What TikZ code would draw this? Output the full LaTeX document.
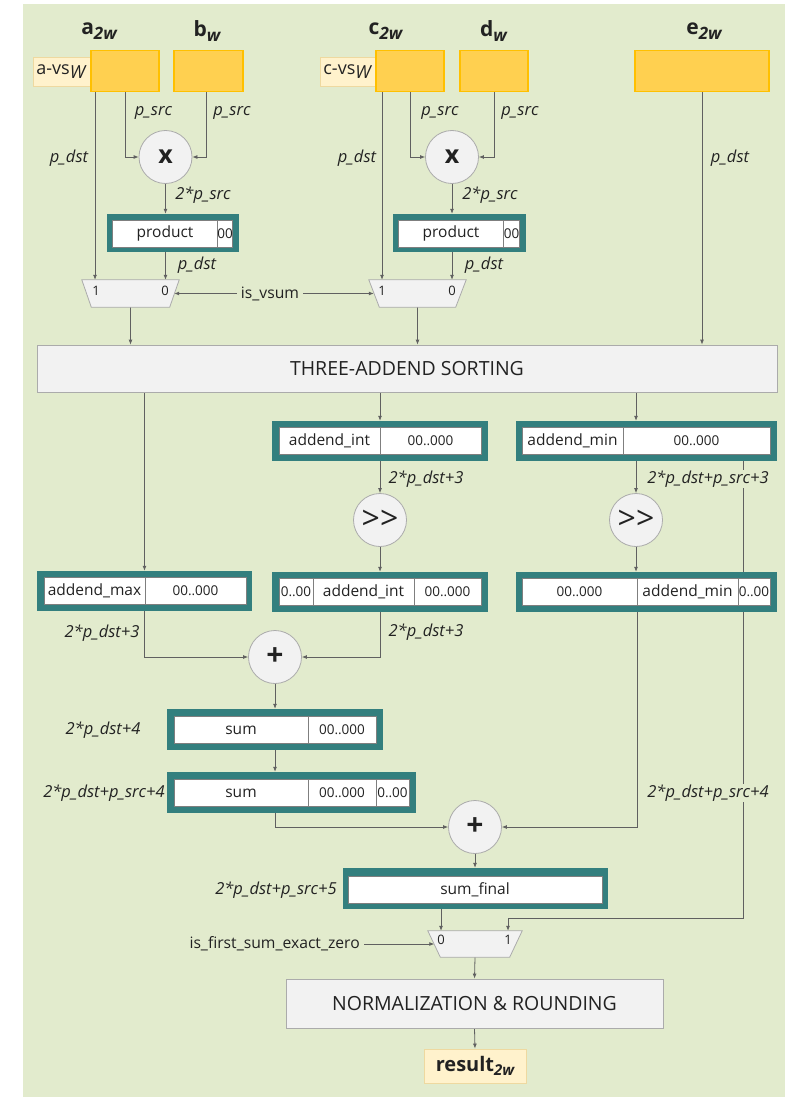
\documentclass[tikz,border=0pt]{standalone}
\usepackage{fontspec}
\setmainfont{Open Sans}
\usetikzlibrary{arrows.meta}
\definecolor{bgreen}{HTML}{E2EBCD}
\definecolor{infill}{HTML}{FFD050}
\definecolor{inborder}{HTML}{FFC000}
\definecolor{vsfill}{HTML}{FFF2CC}
\definecolor{vsborder}{HTML}{EED9A0}
\definecolor{regteal}{HTML}{337F7E}
\definecolor{cellborder}{HTML}{7F7F7F}
\definecolor{boxfill}{HTML}{F2F2F2}
\definecolor{boxborder}{HTML}{ABABAB}
\definecolor{wirec}{HTML}{606060}
\definecolor{txt}{HTML}{222222}
\pgfdeclarelayer{back}
\pgfdeclarelayer{wires}
\pgfsetlayers{back,wires,main}
% trapezoid multiplexer drawn over a named rectangle node
\newcommand\drawmux[2]{%
  \draw[muxshape] (#1.north west) -- (#1.north east)
    -- ([xshift=-#2]#1.south east) -- ([xshift=#2]#1.south west) -- cycle;}
\newcommand\ttlsub[1]{\lower5pt\hbox{\fontsize{17}{17}\selectfont\bfseries\itshape #1}}
\begin{document}
\begin{tikzpicture}[x=1pt,y=-1pt,
  every node/.style={text=txt},
  ttl/.style={font=\fontsize{21}{24}\selectfont\bfseries, inner sep=0pt},
  inbox/.style={draw=inborder, fill=infill, line width=1.4pt, minimum width=#1, minimum height=41pt, inner sep=0pt},
  vsbox/.style={draw=vsborder, fill=vsfill, line width=0.8pt, anchor=west, text width=52pt, align=left, minimum height=29pt, inner sep=3pt, font=\fontsize{18}{20}\selectfont},
  reg/.style={fill=regteal, minimum width=#1, minimum height=40pt, inner sep=0pt},
  cell/.style={draw=cellborder, fill=white, line width=0.6pt, minimum width=#1, minimum height=27pt, inner sep=0pt, font=\fontsize{15.5}{18}\selectfont},
  num/.style={font=\fontsize{13.5}{16}\selectfont},
  op/.style={circle, draw=boxborder, fill=boxfill, line width=0.8pt, minimum size=53pt, inner sep=0pt},
  bigbox/.style={draw=boxborder, fill=boxfill, line width=0.8pt, minimum width=#1, inner sep=0pt, font=\fontsize{19.5}{22}\selectfont},
  muxbox/.style={rectangle, minimum width=#1, minimum height=27pt, inner sep=0pt},
  muxshape/.style={draw=boxborder, fill=boxfill, line width=0.8pt},
  muxlbl/.style={font=\fontsize{13}{14}\selectfont, inner sep=0pt},
  lbl/.style={font=\fontsize{16.5}{18}\selectfont\itshape, inner sep=1pt},
  sig/.style={font=\fontsize{15.7}{18}\selectfont, inner sep=4pt},
  wire/.style={draw=wirec, line width=0.8pt, -{Latex[length=5pt,width=4pt]}},
]
\useasboundingbox (0,0) rectangle (785,1097);
\begin{pgfonlayer}{back}
  \fill[bgreen] (23,4) rectangle (785,1097);
\end{pgfonlayer}

% ---------- operands ----------
\node[ttl] (ta) at (99,31) {a\ttlsub{2w}};
\node[ttl] (tb) at (207,31) {b\ttlsub{w}};
\node[ttl] (tc) at (385.5,31) {c\ttlsub{2w}};
\node[ttl] (td) at (493.5,31) {d\ttlsub{w}};
\node[ttl] (te) at (704,31) {e\ttlsub{2w}};

\node[vsbox] (avs) at (33,71.5) {a-vs\lower4pt\hbox{\itshape W}};
\node[vsbox] (cvs) at (320,71.5) {c-vs\lower4pt\hbox{\itshape W}};

\node[inbox=68pt] (ina) at (125,71) {};
\node[inbox=69pt] (inb) at (208.5,71) {};
\node[inbox=68pt] (inc) at (410,71) {};
\node[inbox=68pt] (ind) at (494,71) {};
\node[inbox=134pt] (ine) at (702,71) {};

% ---------- multipliers ----------
\node[op] (mul1) at (165.5,157) {\fontsize{25}{25}\selectfont\bfseries x};
\node[op] (mul2) at (452,157) {\fontsize{25}{25}\selectfont\bfseries x};

\node[reg=132pt, minimum height=38pt] (prod1) at (173,233) {};
\node[cell=106pt] (prod1a) at (165,233.5) {product};
\node[cell=14pt, num] (prod1b) at (225,233.5) {00};
\node[reg=133pt, minimum height=38pt] (prod2) at (459.5,233) {};
\node[cell=106pt] (prod2a) at (451,233.5) {product};
\node[cell=15pt, num] (prod2b) at (511.5,233.5) {00};

% ---------- muxes ----------
\node[muxbox=97pt] (mux1) at (130.5,293.5) {};
\drawmux{mux1}{9.5pt}
\node[muxlbl] at (96,291) {1};
\node[muxlbl] at (165,291) {0};
\node[muxbox=97pt] (mux2) at (417.5,293.5) {};
\drawmux{mux2}{10.5pt}
\node[muxlbl] at (382,291) {1};
\node[muxlbl] at (452,291) {0};
\node[sig] (vsum) at (270,293.5) {is\_vsum};

% ---------- sorting ----------
\node[bigbox=740pt, minimum height=47pt] (sort) at (407,368.5) {THREE-ADDEND SORTING};

\node[reg=216pt] (aint1) at (380,441) {};
\node[cell=101pt] at (329.5,441) {addend\_int};
\node[cell=101pt, num] at (430.5,441) {00..000};
\node[reg=261pt] (amin1) at (646.5,441) {};
\node[cell=101pt] at (572.5,441) {addend\_min};
\node[cell=147pt, num] at (696.5,441) {00..000};

\node[op] (shift1) at (380,520) {\fontsize{32}{32}\selectfont >{}>};
\node[op] (shift2) at (636,520) {\fontsize{32}{32}\selectfont >{}>};

\node[reg=215pt] (addmax) at (144.5,591) {};
\node[cell=101pt] at (94.5,591) {addend\_max};
\node[cell=101pt, num] at (195.5,591) {00..000};

\node[reg=216pt] (aint2) at (380,592) {};
\node[cell=34pt, num] at (296,592) {0..00};
\node[cell=101pt] at (363.5,592) {addend\_int};
\node[cell=67pt, num] at (447.5,592) {00..000};

\node[reg=261pt] (amin2) at (646.5,592) {};
\node[cell=115pt, num] at (579.5,592) {00..000};
\node[cell=101pt] at (687.5,592) {addend\_min};
\node[cell=32pt, num] at (754,592) {0..00};

% ---------- adders ----------
\node[op] (add1) at (275,657) {\fontsize{30}{30}\selectfont\bfseries +};

\node[reg=216pt, minimum height=41pt] (sum1) at (275,729.5) {};
\node[cell=134pt] at (241,730) {sum};
\node[cell=68pt, num] at (342,730) {00..000};

\node[reg=249pt, minimum height=41pt] (sum2) at (291.5,792.5) {};
\node[cell=134pt] at (241,793) {sum};
\node[cell=68pt, num] at (342,793) {00..000};
\node[cell=33pt, num] at (392.5,793) {0..00};

\node[op] (add2) at (475,827) {\fontsize{30}{30}\selectfont\bfseries +};

\node[reg=265pt, minimum height=41pt] (sumf) at (475.5,888.5) {};
\node[cell=254pt] at (475,889.5) {sum\_final};

\node[muxbox=94pt, minimum height=26pt] (mux3) at (475,944) {};
\drawmux{mux3}{12.5pt}
\node[muxlbl] at (441,940) {0};
\node[muxlbl] at (508,940) {1};
\node[sig, anchor=east] (zero) at (364,944) {is\_first\_sum\_exact\_zero};

\node[bigbox=377pt, minimum height=49pt] (norm) at (474.5,1003.5) {NORMALIZATION \& ROUNDING};
\node[draw=vsborder, fill=vsfill, line width=0.8pt, minimum width=102pt, minimum height=34pt, inner sep=0pt,
      font=\fontsize{20}{22}\selectfont\bfseries] (res) at (475,1066)
      {result\lower4pt\hbox{\fontsize{15}{15}\selectfont\bfseries\itshape 2w}};

% ---------- width labels ----------
\node[lbl] at (153.5,113) {p\_src};
\node[lbl] at (232,113) {p\_src};
\node[lbl] at (69,158) {p\_dst};
\node[lbl] at (203,195) {2*p\_src};
\node[lbl] at (197,265) {p\_dst};
\node[lbl] at (440,113) {p\_src};
\node[lbl] at (520,113) {p\_src};
\node[lbl] at (357,158) {p\_dst};
\node[lbl] at (490,195) {2*p\_src};
\node[lbl] at (484,265) {p\_dst};
\node[lbl] at (730,158) {p\_dst};
\node[lbl] at (426,479) {2*p\_dst+3};
\node[lbl, fill=bgreen] at (708,479) {2*p\_dst+p\_src+3};
\node[lbl] at (102,633) {2*p\_dst+3};
\node[lbl] at (426,632) {2*p\_dst+3};
\node[lbl] at (103,730) {2*p\_dst+4};
\node[lbl] at (104,793) {2*p\_dst+p\_src+4};
\node[lbl, fill=bgreen] at (708,793) {2*p\_dst+p\_src+4};
\node[lbl] at (276,890) {2*p\_dst+p\_src+5};

% ---------- connectors ----------
\begin{pgfonlayer}{wires}
\draw[wire] ([xshift=-30pt]ina.south) -- ([xshift=-30pt]ina.south |- mux1.north);
\draw[wire] (ina.south) |- (mul1.west);
\draw[wire] ([xshift=-2.5pt]inb.south) |- (mul1.east);
\draw[wire] (mul1.south) -- (mul1.south |- prod1.north);
\draw[wire] (mul1.south |- prod1.south) -- (mul1.south |- mux1.north);
\draw[wire] (vsum.west) -- ([xshift=-5pt]mux1.east);
\draw[wire] (vsum.east) -- ([xshift=5pt]mux2.west);
\draw[wire] ([xshift=-28pt]inc.south) -- ([xshift=-28pt]inc.south |- mux2.north);
\draw[wire] (inc.south) |- (mul2.west);
\draw[wire] (ind.south) |- (mul2.east);
\draw[wire] (mul2.south) -- (mul2.south |- prod2.north);
\draw[wire] (mul2.south |- prod2.south) -- (mul2.south |- mux2.north);
\draw[wire] (mux1.south) -- (mux1.south |- sort.north);
\draw[wire] (mux2.south) -- (mux2.south |- sort.north);
\draw[wire] (ine.south) -- (ine.south |- sort.north);

\draw[wire] (addmax.north |- sort.south) -- (addmax.north);
\draw[wire] (aint1.north |- sort.south) -- (aint1.north);
\draw[wire] (shift2 |- sort.south) -- (shift2 |- amin1.north);
\draw[wire] (aint1.south) -- (shift1.north);
\draw[wire] (shift1.south) -- (aint2.north);
\draw[wire] (shift2 |- amin1.south) -- (shift2.north);
\draw[wire] (shift2.south) -- (shift2 |- amin2.north);

\draw[wire] (addmax.south) |- (add1.west);
\draw[wire] (aint2.south) |- (add1.east);
\draw[wire] (add1.south) -- (sum1.north);
\draw[wire] (add1 |- sum1.south) -- (add1 |- sum2.north);
\draw[wire] (add1 |- sum2.south) |- (add2.west);
\draw[wire] ([xshift=1pt]shift2 |- amin2.south) |- (add2.east);
\draw[wire] (add2.south) -- (add2 |- sumf.north);

\coordinate (m3in1) at ([xshift=33pt]mux3.north);
\coordinate (m3in0) at ([xshift=-34pt]mux3.north);
\draw[wire] ([xshift=96.5pt]amin1.south) |- ([yshift=12pt]m3in1) -- (m3in1);
\draw[wire] (m3in0 |- sumf.south) -- (m3in0);
\draw[wire] (zero.east) -- ([xshift=6.5pt]mux3.west);
\draw[wire] (mux3.south) -- (norm.north);
\draw[wire] (norm.south) -- (res.north);
\end{pgfonlayer}
\end{tikzpicture}
\end{document}
